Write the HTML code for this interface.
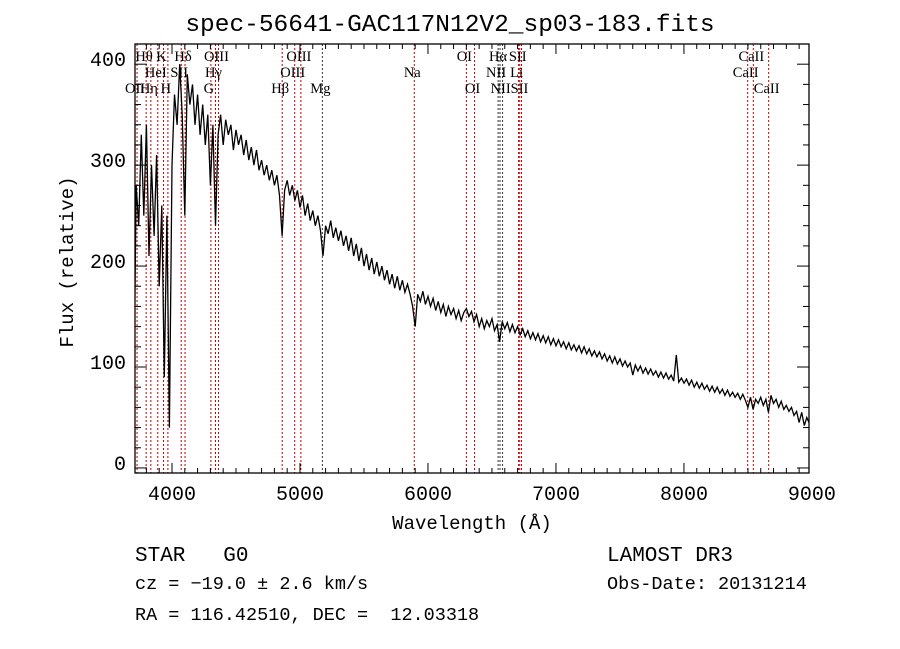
<!DOCTYPE html>
<html><head><meta charset="utf-8"><style>
html,body{margin:0;padding:0;background:#fff;}
svg{display:block;}
text{font-family:"Liberation Mono",monospace;fill:#000;}
.lb{font-family:"Liberation Serif",serif;font-size:14.5px;}
</style></head><body>
<svg id="chart" width="900" height="649" viewBox="0 0 900 649" xmlns="http://www.w3.org/2000/svg">
<rect width="900" height="649" fill="#fff"/>
<text x="450" y="31" text-anchor="middle" font-size="24.5">spec-56641-GAC117N12V2_sp03-183.fits</text>
<defs><clipPath id="clip"><rect x="135" y="44" width="674" height="429"/></clipPath></defs>
<g id="lines" clip-path="url(#clip)"></g>
<g id="spec" clip-path="url(#clip)"></g>
<g id="axes"></g>
<g id="labels"></g>
<text x="472" y="529" text-anchor="middle" font-size="19">Wavelength (Å)</text>
<text transform="translate(73,262) rotate(-90)" text-anchor="middle" font-size="19">Flux (relative)</text>
<text x="135" y="561" font-size="21" xml:space="preserve">STAR   G0</text>
<text x="607" y="561" font-size="21">LAMOST DR3</text>
<text x="135" y="589" font-size="18.5">cz = −19.0 ± 2.6 km/s</text>
<text x="607" y="589" font-size="18.5">Obs-Date: 20131214</text>
<text x="135" y="620" font-size="18.5" xml:space="preserve">RA = 116.42510, DEC =  12.03318</text>
</svg>
<script>
const startWave = 3700;
const waveStep = 20;
const flux = [60,280,240,330,250,340,210,300,230,310,180,260,90,250,40,300,370,340,400,350,
250,390,360,380,340,370,330,360,320,350,280,340,240,330,350,320,345,330,340,315,
335,320,330,310,325,305,318,300,315,295,305,290,300,285,295,280,290,270,230,275,
285,270,280,265,275,258,270,250,262,245,255,240,250,235,210,240,232,245,228,238,
225,235,220,230,215,228,210,222,205,218,200,212,196,208,192,204,190,200,186,196,
182,192,178,190,176,186,174,182,172,160,140,172,165,175,162,170,160,168,156,165,
154,162,150,160,152,158,148,156,146,154,158,150,155,145,152,140,148,138,146,140,
148,136,142,125,145,138,144,135,142,134,140,132,138,130,136,128,134,127,133,125,
131,124,130,122,128,121,127,120,125,118,124,117,122,116,121,114,120,113,118,111,
116,110,115,108,113,106,111,104,110,103,108,101,106,100,104,92,102,96,101,94,
99,93,98,92,96,90,95,89,94,88,92,86,112,85,89,84,88,82,87,80,
85,79,84,78,82,76,81,75,80,74,78,72,77,71,75,70,74,68,73,67,
60,70,58,68,64,70,62,68,55,72,64,68,60,66,58,62,56,60,52,56,
45,55,42,50,44];
const lineNames = ["OII","Hθ","Hη","HeI","K","H","SII","Hδ","G","Hγ","OIII","Hβ","OIII","OIII","Mg","Na","OI","OI","NII","Hα","NII","Li","SII","SII","CaII","CaII","CaII"];
const lineWaves = [3727,3798,3835,3889,3934,3968,4072,4102,4304,4340,4363,4861,4959,5007,5175,5893,6300,6364,6548,6563,6583,6708,6717,6731,8498,8542,8662];
const lineRows = [2,0,2,1,0,2,1,0,2,1,0,2,1,0,2,1,0,2,1,0,2,1,0,2,1,0,2];
const xTicks = [4000,5000,6000,7000,8000,9000];
const yTicks = [0,100,200,300,400];

const NS="http://www.w3.org/2000/svg";
const X0=135,X1=809,Y0=44,Y1=473;
const wMin=3711,wMax=8977,fMin=-5,fMax=420;
const xs=w=>X0+(w-wMin)/(wMax-wMin)*(X1-X0);
const ys=f=>Y1-(f-fMin)/(fMax-fMin)*(Y1-Y0);
function mk(tag,attrs,parent){const e=document.createElementNS(NS,tag);for(const k in attrs)e.setAttribute(k,attrs[k]);document.getElementById(parent).appendChild(e);return e;}

lineWaves.forEach((w,i)=>{
  const dark = (lineNames[i]==="Mg"||lineNames[i]==="Hα"||lineNames[i]==="NII");
  const l=mk('line',{x1:xs(w),x2:xs(w),y1:Y0,y2:Y1,stroke:dark?'#333':'#c00000','stroke-width':1,'stroke-dasharray':'2,2'},'lines');
  
  
  const t=mk('text',{x:xs(w)-2,y:61+lineRows[i]*16,class:'lb','text-anchor':'middle'},'labels');
  t.textContent=lineNames[i];
  
  
});

let d='';
flux.forEach((f,i)=>{const w=startWave+i*waveStep;d+=(i?'L':'M')+xs(w).toFixed(1)+','+ys(f).toFixed(1);});
const p=mk('path',{d:d,fill:'none',stroke:'#000','stroke-width':1.3},'spec');



const fr=mk('rect',{x:X0,y:Y0,width:X1-X0,height:Y1-Y0,fill:'none',stroke:'#000','stroke-width':1.3},'axes');


for(let w=3800;w<=wMax;w+=100){
  const major=w%1000===0,len=major?10:5,x=xs(w);
  mk('line',{x1:x,x2:x,y1:Y1,y2:Y1-len,stroke:'#000'},'axes');
  mk('line',{x1:x,x2:x,y1:Y0,y2:Y0+len,stroke:'#000'},'axes');
}
xTicks.forEach(w=>{
  const t=mk('text',{x:xs(w),y:Y1+27,'text-anchor':'middle','font-size':20},'axes');
  t.textContent=w;
  
  
});
for(let f=0;f<=fMax;f+=20){
  const major=f%100===0,len=major?12:6,y=ys(f);
  mk('line',{x1:X0,x2:X0+len,y1:y,y2:y,stroke:'#000'},'axes');
  mk('line',{x1:X1,x2:X1-len,y1:y,y2:y,stroke:'#000'},'axes');
}
yTicks.forEach(f=>{
  const t=mk('text',{x:X0-9,y:ys(f)+2,'text-anchor':'end','font-size':20},'axes');
  t.textContent=f;
  
  
});
</script>
</body></html>
